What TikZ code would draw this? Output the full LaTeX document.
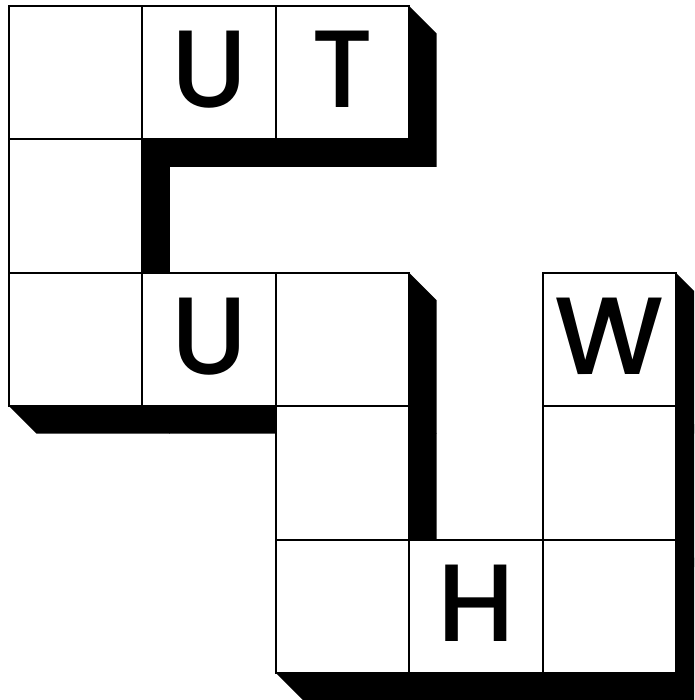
\documentclass[tikz,border=0pt]{standalone}
\usepackage{fontspec}
\setmainfont{Poppins}[UprightFont=* Medium]
\begin{document}
\begin{tikzpicture}[x=1pt,y=-1pt,
  cell/.style={draw=black,fill=white,line width=2pt,minimum size=133.4pt,inner sep=0pt,outer sep=0pt},
  letter/.style={inner sep=0pt,font=\fontsize{110}{110}\selectfont},
  shade/.style={fill=black,draw=none}]
\useasboundingbox (0,0) rectangle (694,700);
\clip (0,0) rectangle (694,700);
\def\d{27.5}
\def\s{133.4}
% shadows
\foreach \c/\r in {0/0,1/0,2/0,0/1,0/2,1/2,2/2,4/2,2/3,4/3,2/4,3/4,4/4}{
  \pgfmathsetmacro{\xa}{9+\c*\s}
  \pgfmathsetmacro{\ya}{6+\r*\s}
  \pgfmathsetmacro{\xb}{\xa+\s}
  \pgfmathsetmacro{\yb}{\ya+\s}
  \fill[shade] (\xa,\ya) -- (\xb,\ya) -- (\xb+\d,\ya+\d) -- (\xb+\d,\yb+\d) -- (\xa+\d,\yb+\d) -- (\xa,\yb) -- cycle;
}
% cells
\foreach \c/\r/\t in {0/0/{},1/0/U,2/0/T,0/1/{},0/2/{},1/2/U,2/2/{},4/2/W,2/3/{},4/3/{},2/4/{},3/4/H,4/4/{}}{
  \node[cell] (c\c r\r) at ({9+(\c+0.5)*\s},{6+(\r+0.5)*\s}) {};
  \node[letter] (t\c r\r) at ([yshift=3pt]c\c r\r.center) {\t};
}
\end{tikzpicture}
\end{document}
